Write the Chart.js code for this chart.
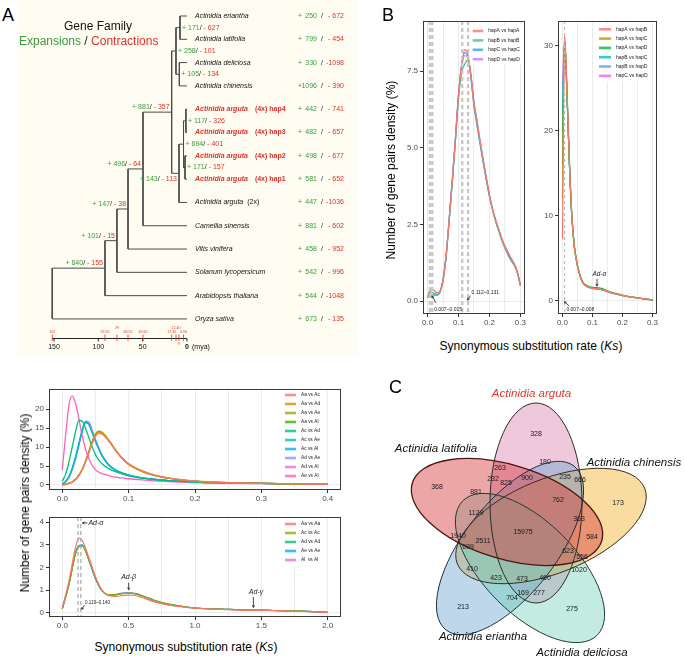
<!DOCTYPE html>
<html><head><meta charset="utf-8">
<script src="https://cdn.jsdelivr.net/npm/chart.js@4.4.1/dist/chart.umd.min.js"></script>
<style>
html,body{margin:0;padding:0;background:#fff;}
body{width:685px;height:657px;position:relative;overflow:hidden;font-family:"Liberation Sans",Arial,sans-serif;}
.pos{position:absolute;}
.t{position:absolute;white-space:nowrap;line-height:1;color:#000;}
.rot{transform:translate(-50%,-50%) rotate(-90deg);}
.ctr{transform:translate(-50%,-50%);}
</style></head><body>
<div class="pos" style="left:18px;top:0;width:340px;height:356px;background:#fffdf2;"></div>
<canvas id="tree" class="pos" width="340" height="356" style="left:18px;top:0"></canvas>
<canvas id="bL" class="pos" width="140" height="327" style="left:395px;top:11px"></canvas>
<canvas id="bR" class="pos" width="129" height="327" style="left:538px;top:11px"></canvas>
<canvas id="dT" class="pos" width="314" height="128" style="left:31px;top:381px"></canvas>
<canvas id="dB" class="pos" width="314" height="126" style="left:31px;top:510px"></canvas>
<canvas id="venn" class="pos" width="340" height="292" style="left:345px;top:365px"></canvas>
<div class="t" style="left:2px;top:6px;font-size:18px">A</div>
<div class="t" style="left:382px;top:6px;font-size:18px">B</div>
<div class="t" style="left:389px;top:378px;font-size:18px">C</div>
<div class="t rot" style="left:391px;top:170px;font-size:12px">Number of gene pairs density (%)</div>
<div class="t ctr" style="left:531px;top:346px;font-size:12px">Synonymous substitution rate (<i>Ks</i>)</div>
<div class="t rot" style="left:25px;top:503px;font-size:12px">Number of gene pairs density (%)</div>
<div class="t ctr" style="left:186px;top:647px;font-size:12px">Synonymous substitution rate (<i>Ks</i>)</div>
<script>
// ===================== DATA =====================
// Panel A: gene family tree
const taxa = ['Actinidia eriantha','Actinidia latifolia','Actinidia deliciosa','Actinidia chinensis',
  'Actinidia arguta (4x) hap4','Actinidia arguta (4x) hap3','Actinidia arguta (4x) hap2','Actinidia arguta (4x) hap1',
  'Actinidia arguta (2x)','Camellia sinensis','Vitis vinifera','Solanum lycopersicum','Arabidopsis thaliana','Oryza sativa'];
const tipExp = [250,799,330,1096,442,482,498,581,447,881,458,542,544,673];
const tipCon = [672,454,1098,390,741,657,677,652,1036,602,952,996,1048,135];
// internal nodes (ids 14..26), children refer to tip index or node id
const nodeKids = [[0,1],[2,3],[14,15],[4,5],[6,7],[17,18],[19,8],[16,20],[21,9],[22,10],[23,11],[24,12],[25,13]];
const nodeAge  = [7.9,8.6,12.4,1.2,2.2,3.9,9.0,17.3,49.6,66.5,79.0,92.5,152.0];
const nodeExp  = [171,105,258,117,171,694,143,881,496,147,101,840,null];
const nodeCon  = [627,134,101,326,157,401,113,357,64,38,15,155,null];
const timeTicks = [150,100,50,0];

// Panel B left: hap vs same hap
const ksB1 = [0,0.01,0.02,0.03,0.04,0.05,0.06,0.07,0.08,0.09,0.10,0.11,0.12,0.13,0.14,0.15,0.16,0.17,0.18,0.19,0.20,0.21,0.22,0.23,0.24,0.25,0.26,0.27,0.28,0.29,0.30];
const hapA = [0.15,0.40,0.36,0.28,0.33,0.70,1.50,2.70,3.95,5.30,6.75,7.70,8.20,8.05,7.35,6.40,5.80,5.20,4.60,4.00,3.45,3.00,2.65,2.35,2.05,1.78,1.58,1.38,1.22,0.95,0.52];
const hapB = [0.12,0.30,0.26,0.22,0.30,0.68,1.48,2.68,3.92,5.25,6.65,7.45,7.72,7.85,7.30,6.45,5.85,5.15,4.55,3.95,3.42,2.98,2.60,2.28,1.98,1.72,1.50,1.32,1.16,0.95,0.50];
const hapC = [0.13,0.22,0.22,0.20,0.30,0.70,1.50,2.70,3.95,5.30,6.72,7.65,8.10,8.00,7.30,6.35,5.70,5.10,4.50,3.95,3.42,2.98,2.62,2.32,2.02,1.76,1.54,1.36,1.20,0.95,0.52];
const hapD = [0.12,0.18,0.20,0.20,0.30,0.70,1.50,2.70,3.95,5.30,6.72,7.65,8.00,7.95,7.40,6.50,5.85,5.20,4.58,4.02,3.46,3.00,2.62,2.32,2.02,1.80,1.60,1.40,1.22,0.95,0.52];
const namesB1 = ['hapA vs hapA','hapB vs hapB','hapC vs hapC','hapD vs hapD'];

// Panel B right: between haps
const ksB2 = [0,0.003,0.006,0.009,0.012,0.015,0.02,0.025,0.03,0.035,0.04,0.05,0.06,0.07,0.08,0.09,0.1,0.11,0.12,0.13,0.14,0.15,0.16,0.18,0.2,0.22,0.24,0.26,0.28,0.3];
const hAB = [7.3,20,31.2,30.5,28,25,19.5,14.5,10.8,8.2,6.3,4.1,2.8,2.0,1.75,1.6,1.5,1.45,1.42,1.35,1.25,1.12,1.0,0.82,0.66,0.52,0.42,0.32,0.22,0.13];
const hAC = [12,23,30.5,30,27.5,24.5,19.2,14.3,10.6,8.1,6.2,4.1,2.8,2.0,1.78,1.62,1.52,1.48,1.45,1.38,1.28,1.14,1.02,0.83,0.67,0.52,0.42,0.32,0.22,0.13];
const hAD = [16,25,30,29.8,27.5,24.5,19.3,14.4,10.7,8.2,6.3,4.2,2.9,2.1,1.85,1.7,1.6,1.58,1.55,1.48,1.35,1.2,1.06,0.86,0.68,0.53,0.42,0.32,0.22,0.13];
const hBC = [20,26,29.5,29.2,27,24,19,14.2,10.6,8.1,6.2,4.1,2.8,2.0,1.76,1.6,1.5,1.46,1.43,1.36,1.26,1.13,1.01,0.82,0.66,0.52,0.42,0.32,0.22,0.13];
const hBD = [22,27,29.8,29.5,27.2,24.2,19.1,14.3,10.7,8.1,6.2,4.1,2.8,2.0,1.74,1.58,1.48,1.44,1.4,1.33,1.23,1.1,0.99,0.81,0.65,0.51,0.41,0.31,0.21,0.12];
const hCD = [25,28.5,30.2,29.8,27.4,24.3,19.2,14.4,10.7,8.2,6.3,4.1,2.8,2.0,1.72,1.56,1.46,1.42,1.38,1.31,1.21,1.09,0.98,0.8,0.64,0.5,0.4,0.3,0.2,0.12];
const namesB2 = ['hapA vs hapB','hapA vs hapC','hapA vs hapD','hapB vs hapC','hapB vs hapD','hapC vs hapD'];

// Bottom-left top: interspecific
const ksC = [0,0.005,0.01,0.015,0.02,0.025,0.03,0.035,0.04,0.045,0.05,0.055,0.06,0.07,0.08,0.09,0.1,0.12,0.14,0.16,0.18,0.2,0.25,0.3,0.35,0.4];
const aaAc = [0.05,0.15,0.4,0.8,1.5,2.5,4.0,6.0,8.4,10.9,12.8,13.6,13.4,11.6,9.2,7.1,5.6,3.8,2.6,1.9,1.4,1.05,0.62,0.42,0.3,0.15];
const aaAd = [0.05,0.15,0.4,0.8,1.5,2.5,4.0,6.1,8.6,11.2,13.2,14.0,13.7,11.7,9.2,7.0,5.4,3.6,2.5,1.8,1.3,1.0,0.6,0.4,0.3,0.15];
const aaAe = [0.05,0.15,0.4,0.8,1.5,2.6,4.1,6.2,8.7,11.3,13.3,14.1,13.8,11.8,9.3,7.1,5.5,3.6,2.5,1.8,1.3,1.0,0.6,0.4,0.3,0.15];
const aaAl = [0.05,0.15,0.4,0.8,1.5,2.6,4.1,6.2,8.8,11.4,13.4,14.2,13.9,11.8,9.3,7.1,5.5,3.6,2.5,1.8,1.3,1.0,0.6,0.4,0.3,0.15];
const acAd = [1.0,2.8,6.0,10.0,14.0,17.0,16.8,15.0,12.5,10.1,8.0,6.6,5.6,4.3,3.5,2.9,2.4,1.8,1.4,1.1,0.9,0.75,0.55,0.4,0.3,0.15];
const acAe = [0.3,0.9,2.3,4.5,7.5,11.0,14.5,16.6,16.0,13.8,11.5,9.4,7.6,5.2,3.9,3.1,2.6,1.9,1.45,1.15,0.95,0.78,0.55,0.4,0.3,0.15];
const acAl = [0.3,0.9,2.2,4.3,7.2,10.7,14.2,16.4,16.0,13.9,11.6,9.5,7.7,5.3,4.0,3.2,2.6,1.9,1.45,1.15,0.95,0.78,0.55,0.4,0.3,0.15];
const adAe = [0.3,0.8,2.1,4.2,7.1,10.6,14.3,16.8,16.5,14.3,11.9,9.7,7.8,5.3,4.0,3.2,2.6,1.9,1.45,1.15,0.95,0.78,0.55,0.4,0.3,0.15];
const adAl = [0.3,0.8,2.0,4.0,6.9,10.4,14.0,16.7,16.6,14.4,12.0,9.8,7.9,5.4,4.0,3.2,2.6,1.9,1.45,1.15,0.95,0.78,0.55,0.4,0.3,0.15];
const aeAl = [4.0,13.0,21.0,23.5,21.5,17.5,13.0,9.5,7.0,5.2,4.0,3.4,3.0,2.5,2.1,1.85,1.65,1.35,1.1,0.9,0.75,0.62,0.45,0.35,0.28,0.15];
const namesC = ['Aa vs Ac','Aa vs Ad','Aa vs Ae','Aa vs Al','Ac vs Ad','Ac vs Ae','Ac vs Al','Ad vs Ae','Ad vs Al','Ae vs Al'];

// Bottom-left bottom: intraspecific
const ksD = [0,0.05,0.1,0.125,0.15,0.2,0.25,0.3,0.35,0.4,0.45,0.5,0.55,0.6,0.7,0.8,0.9,1.0,1.2,1.4,1.5,1.6,1.8,2.0];
const aaAa = [0.2,1.4,2.9,3.3,3.2,2.45,1.6,1.0,0.76,0.73,0.76,0.79,0.77,0.68,0.48,0.35,0.27,0.21,0.16,0.12,0.13,0.1,0.07,0.02];
const acAc = [0.18,1.25,2.6,2.9,2.95,2.35,1.55,1.0,0.8,0.8,0.85,0.87,0.84,0.75,0.53,0.38,0.29,0.22,0.17,0.13,0.13,0.11,0.08,0.03];
const adAd = [0.18,1.25,2.62,2.92,2.95,2.33,1.52,0.98,0.79,0.8,0.85,0.88,0.85,0.76,0.54,0.39,0.29,0.22,0.17,0.13,0.13,0.11,0.08,0.03];
const aeAe = [0.18,1.27,2.65,2.97,3.0,2.35,1.52,0.98,0.8,0.81,0.86,0.88,0.85,0.76,0.54,0.38,0.29,0.22,0.17,0.13,0.13,0.11,0.08,0.03];
const alAl = [0.18,1.26,2.64,2.95,2.98,2.34,1.52,0.98,0.8,0.82,0.87,0.89,0.86,0.77,0.55,0.39,0.29,0.22,0.17,0.13,0.13,0.11,0.08,0.03];
const namesD = ['Aa vs Aa','Ac vs Ac','Ad vs Ad','Ae vs Ae','Al  vs Al'];

// Panel C: Venn
const vennSets = ['Actinidia arguta','Actinidia latifolia','Actinidia chinensis','Actinidia eriantha','Actinidia deilciosa'];
const vennCounts = [328,263,180,232,900,235,666,368,881,825,762,173,1129,363,15975,1940,2511,584,699,623,556,410,1020,423,473,460,169,277,704,213,275];

// ===================== LAYOUT / STYLE =====================
const FONT = '"Liberation Sans", Arial, sans-serif';
const GREEN = '#3a9b3f', RED = '#e0302a';
const colsB1 = ['#F8766D','#4DC282','#3FA3E0','#C77CFF'];
const colsB2 = ['#F8766D','#B79F00','#00BA38','#00BFC4','#619CFF','#F564E3'];
const colsC = ['#F8766D','#D89000','#A3A500','#39B600','#00BF7D','#00BFC4','#00B0F6','#9590FF','#E76BF3','#FF62BC'];
const colsD = ['#F8766D','#A3A500','#00BF7D','#00B0F6','#E76BF3'];
const nodeLabelSide = ['r','r','r','r','r','r','b','a','a','a','a','a',''];
const ageLabelRow   = [-1,-1,1,-1,-1,0,2,0,0,0,1,0,0];
const vennShapes = [ // cx, cy, rx, ry, rotation(deg) in venn units
  [191,138,46,100,0],[162,147,99,47,17],[206,161,101,47,-22],[165,183,104,46,-52],[185,203,95,46,45]];
const vennFill = ['rgba(217,117,167,0.40)','rgba(214,58,58,0.45)','rgba(245,185,65,0.50)','rgba(111,166,211,0.45)','rgba(105,205,180,0.40)'];
const vennStroke = ['#2a2a2a','#4a1616','#3a2a1a','#1f2f3f','#1f3a34'];
const vennOrder = [0,2,3,4,1];
const vennLabelXY = [[186.5,29],[91,84],[289,98],[138,272],[237,288]];
const vennCountXY = [[191,69],[155,103],[200,97],[148,114],[182,113],[220,112],[235,115],[92,122],[131,127],[161,118],[213,135],[273,138],[131,148],[234,154],[178,167],[113,171],[138,176],[247,172],[123,182],[223,186],[237,192],[127,204],[234,205],[151,213],[177,214],[200,213],[178,228],[194,228],[167,233],[118,242],[227,244]];

// ===================== HELPERS =====================
function drawParts(ctx, parts, x, y, align){
  let total=0; parts.forEach(p=>{ctx.font=p[2]; total+=ctx.measureText(p[0]).width;});
  let cx = align==='right' ? x-total : x;
  ctx.textAlign='left';
  parts.forEach(p=>{ctx.font=p[2]; ctx.fillStyle=p[1]; ctx.fillText(p[0],cx,y); cx+=ctx.measureText(p[0]).width;});
}
function arrow(ctx,x1,y1,x2,y2,h){
  ctx.beginPath(); ctx.moveTo(x1,y1); ctx.lineTo(x2,y2); ctx.stroke();
  const a=Math.atan2(y2-y1,x2-x1);
  ctx.beginPath();
  ctx.moveTo(x2-h*Math.cos(a-0.45),y2-h*Math.sin(a-0.45));
  ctx.lineTo(x2,y2);
  ctx.lineTo(x2-h*Math.cos(a+0.45),y2-h*Math.sin(a+0.45));
  ctx.stroke();
}
const framePlugin = {id:'frameBox', afterDraw(chart){
  const {ctx, chartArea:a}=chart; ctx.save(); ctx.strokeStyle='#3a3a3a'; ctx.lineWidth=1;
  ctx.strokeRect(Math.round(a.left)+0.5, Math.round(a.top)+0.5, Math.round(a.width)-1, Math.round(a.height)-1); ctx.restore();}};
function makeLegend(o){ return {id:'ggLegend', afterDatasetsDraw(chart){
  const {ctx, chartArea:a}=chart; const ds=chart.data.datasets;
  ctx.save(); ctx.font=`${o.font}px ${FONT}`;
  let tw=0; ds.forEach(d=>{tw=Math.max(tw,ctx.measureText(d.label).width);});
  const x0=a.left+o.x, y0=a.top+o.y;
  ctx.fillStyle='#fff'; ctx.fillRect(x0-3, y0-o.dy/2-1, o.keyW+o.gap+tw+5, o.dy*ds.length+2);
  ds.forEach((d,i)=>{const yy=y0+i*o.dy;
    ctx.globalAlpha=0.8; ctx.strokeStyle=d.borderColor; ctx.lineWidth=2.6; ctx.lineCap='butt';
    ctx.beginPath(); ctx.moveTo(x0,yy); ctx.lineTo(x0+o.keyW,yy); ctx.stroke();
    ctx.globalAlpha=1; ctx.fillStyle='#1a1a1a'; ctx.textAlign='left'; ctx.textBaseline='middle';
    ctx.fillText(d.label, x0+o.keyW+o.gap, yy);});
  ctx.restore();}};}
function makeAnnot(o){ return {id:'annot', afterDatasetsDraw(chart){
  const {ctx, chartArea:a, scales:{x,y}}=chart; ctx.save();
  (o.vlines||[]).forEach(v=>{ctx.strokeStyle=v.color; ctx.lineWidth=v.w; ctx.setLineDash(v.dash);
    const px=x.getPixelForValue(v.x); ctx.beginPath(); ctx.moveTo(px,a.top); ctx.lineTo(px,a.bottom); ctx.stroke();});
  ctx.setLineDash([]); ctx.strokeStyle='#222'; ctx.lineWidth=0.8;
  (o.arrows||[]).forEach(r=>arrow(ctx,x.getPixelForValue(r.x1),y.getPixelForValue(r.y1),x.getPixelForValue(r.x2),y.getPixelForValue(r.y2),r.h||2.5));
  (o.texts||[]).forEach(t=>{ctx.font=`${t.it?'italic ':''}${t.size}px ${FONT}`; ctx.fillStyle='#222';
    ctx.textAlign=t.align||'left'; ctx.textBaseline='middle'; ctx.fillText(t.text,x.getPixelForValue(t.x),y.getPixelForValue(t.y));});
  ctx.restore();}};}
const isMult=(v,s)=>Math.abs(v/s-Math.round(v/s))<1e-6;

function densityChart(id, xs, series, names, colors, c){
  return new Chart(document.getElementById(id), {
    type:'scatter',
    data:{datasets:series.map((s,i)=>({label:names[i], data:xs.map((v,j)=>({x:v,y:s[j]})), showLine:true,
      borderColor:colors[i], backgroundColor:colors[i], borderWidth:c.lw, pointRadius:0, pointHoverRadius:0,
      cubicInterpolationMode:'monotone', fill:false}))},
    options:{responsive:false, animation:false, events:[], layout:{padding:c.pad},
      scales:{
        x:{type:'linear', min:c.xmin, max:c.xmax,
          afterBuildTicks:s=>{s.ticks=c.xticks.map(v=>({value:v}));}, afterFit:s=>{s.height=c.xh;},
          ticks:{autoSkip:false, maxRotation:0, minRotation:0, padding:1, color:'#4d4d4d', font:{family:FONT,size:8},
            callback:v=>isMult(v,c.xmaj)?v.toFixed(1):''},
          grid:{color:'#ebebeb', lineWidth:1, tickLength:3,
            tickColor:ctx=>(ctx.tick && isMult(ctx.tick.value,c.xmaj))?'#333':'rgba(0,0,0,0)'},
          border:{display:false}},
        y:{type:'linear', min:c.ymin, max:c.ymax,
          afterBuildTicks:s=>{s.ticks=c.yticks.map(v=>({value:v}));}, afterFit:s=>{s.width=c.yw;},
          ticks:{padding:2, color:'#4d4d4d', font:{family:FONT,size:8}, callback:v=>c.yfmt(v)},
          grid:{color:ctx=>(ctx.tick && ctx.tick.value===0)?'#ebebeb':'rgba(0,0,0,0)', tickLength:3, tickColor:'#333'},
          border:{display:false}}},
      plugins:{legend:{display:false}, tooltip:{enabled:false}}},
    plugins:[makeAnnot(c.annot||{}), makeLegend(c.legend), framePlugin]
  });
}

// ===================== PANEL A: TREE =====================
const nodeY={}, nodeT={};
taxa.forEach((_,i)=>{nodeY[i]=i; nodeT[i]=0;});
nodeKids.forEach((k,j)=>{const id=14+j; nodeY[id]=(nodeY[k[0]]+nodeY[k[1]])/2; nodeT[id]=nodeAge[j];});
const treeSets = nodeKids.map((k,j)=>{const id=14+j, a=k[0], b=k[1];
  return {data:[{x:nodeT[a],y:nodeY[a]},{x:nodeT[id],y:nodeY[a]},{x:nodeT[id],y:nodeY[b]},{x:nodeT[b],y:nodeY[b]}],
    showLine:true, borderColor:'#4a4a4a', borderWidth:1, pointRadius:0, tension:0, fill:false};});

const treePlugin = {id:'treeDraw', afterDatasetsDraw(chart){
  const {ctx, scales:{x,y}}=chart; ctx.save(); ctx.textBaseline='middle';
  ctx.textAlign='center'; ctx.fillStyle='#111'; ctx.font=`12px ${FONT}`;
  ctx.fillText('Gene Family', 80, 27);
  const f12=`12px ${FONT}`;
  drawParts(ctx,[['Expansions',GREEN,f12],[' / ','#111',f12],['Contractions',RED,f12]],1,42,'left');
  const tipX=x.getPixelForValue(0), f7=`7px ${FONT}`;
  taxa.forEach((name,i)=>{
    const py=y.getPixelForValue(i);
    const k=name.indexOf(' (');
    const sp=k>=0?name.slice(0,k):name, suf=k>=0?name.slice(k+1):'';
    const hap=/hap/.test(suf), w=hap?'bold ':'';
    ctx.textAlign='left'; ctx.fillStyle=hap?RED:'#111';
    ctx.font=`italic ${w}7px ${FONT}`; ctx.fillText(sp,tipX+8,py);
    if(suf){const sw=ctx.measureText(sp).width; ctx.font=`${w}7px ${FONT}`; ctx.fillText(suf,tipX+8+sw+(hap?7:4),py);}
    ctx.font=f7;
    ctx.fillStyle=GREEN; ctx.textAlign='left'; ctx.fillText('+',tipX+111,py);
    ctx.textAlign='right'; ctx.fillText(String(tipExp[i]),tipX+130,py);
    ctx.fillStyle='#111'; ctx.textAlign='left'; ctx.fillText('/',tipX+134,py);
    ctx.fillStyle=RED; ctx.textAlign='right'; ctx.fillText(tipCon[i]>=1000?'-'+tipCon[i]:'- '+tipCon[i],tipX+157,py);
  });
  nodeKids.forEach((k,j)=>{
    if(nodeExp[j]==null) return;
    const id=14+j, nx=x.getPixelForValue(nodeT[id]), ny=y.getPixelForValue(nodeY[id]);
    const parts=[['+ '+nodeExp[j],GREEN,f7],['/','#111',f7],[' - '+nodeCon[j],RED,f7]];
    const side=nodeLabelSide[j];
    if(side==='r') drawParts(ctx,parts,nx+2,ny,'left');
    else if(side==='a') drawParts(ctx,parts,nx-2,ny-5,'right');
    else drawParts(ctx,parts,nx-2,ny+5.5,'right');
  });
  // time scale bar
  const yb=Math.round(y.getPixelForValue(taxa.length-1)+18.7)+0.5;
  ctx.strokeStyle='#222'; ctx.lineWidth=1;
  ctx.beginPath(); ctx.moveTo(x.getPixelForValue(nodeAge[nodeAge.length-1]),yb); ctx.lineTo(x.getPixelForValue(0),yb); ctx.stroke();
  ctx.fillStyle='#111'; ctx.textAlign='center';
  timeTicks.forEach(t=>{const px=x.getPixelForValue(t);
    ctx.beginPath(); ctx.moveTo(px,yb); ctx.lineTo(px,yb+3); ctx.stroke();
    if(t===0){ctx.font=`bold 7px ${FONT}`; ctx.fillText('0',px,yb+9); ctx.font=f7; ctx.textAlign='left'; ctx.fillText('(mya)',px+5,yb+9); ctx.textAlign='center';}
    else {ctx.font=f7; ctx.fillText(String(t),px,yb+9);}
  });
  ctx.strokeStyle=RED; ctx.fillStyle=RED; ctx.lineWidth=0.8; ctx.font=`3.6px ${FONT}`;
  nodeAge.forEach((t,j)=>{
    const row=ageLabelRow[j]; if(row<0) return;
    const px=x.getPixelForValue(t);
    ctx.beginPath(); ctx.moveTo(px,yb-4); ctx.lineTo(px,yb+2.5); ctx.stroke();
    const ly=row===0?yb-6.7:(row===1?yb-11:yb+5.5);
    ctx.fillText(t.toFixed(2).replace(/\.00$/,''),px,ly);
  });
  ctx.restore();}};

new Chart(document.getElementById('tree'), {
  type:'scatter', data:{datasets:treeSets},
  options:{responsive:false, animation:false, events:[], layout:{padding:0},
    scales:{x:{type:'linear',display:false,min:-192.9,max:190.6,reverse:true},
            y:{type:'linear',display:false,min:-0.687,max:14.59,reverse:true}},
    plugins:{legend:{display:false},tooltip:{enabled:false}}},
  plugins:[treePlugin]
});

// ===================== PANEL B =====================
densityChart('bL', ksB1, [hapA,hapB,hapC,hapD], namesB1, colsB1, {
  lw:1.3, pad:{top:10,right:10,bottom:4,left:0}, xh:20, yw:28,
  xmin:-0.015, xmax:0.315, xticks:[0,0.05,0.1,0.15,0.2,0.25,0.3], xmaj:0.1,
  ymin:-0.42, ymax:9.13, yticks:[0,2.5,5,7.5], yfmt:v=>v.toFixed(1),
  legend:{x:49.7,y:10,dy:9.4,keyW:10.5,gap:5,font:5},
  annot:{vlines:[{x:0.007,w:2.2,dash:[4,3],color:'#c4c4c4'},{x:0.015,w:2.2,dash:[4,3],color:'#c4c4c4'},
                 {x:0.112,w:2.2,dash:[4,3],color:'#c4c4c4'},{x:0.131,w:2.2,dash:[4,3],color:'#c4c4c4'}],
    arrows:[{x1:0.027,y1:-0.06,x2:0.014,y2:0.17},{x1:0.139,y1:0.18,x2:0.129,y2:0.03}],
    texts:[{x:0.021,y:-0.27,text:'0.007~0.015',size:5},{x:0.142,y:0.27,text:'0.112~0.131',size:5}]}
});
densityChart('bR', ksB2, [hAB,hAC,hAD,hBC,hBD,hCD], namesB2, colsB2, {
  lw:1.2, pad:{top:10,right:10,bottom:4,left:0}, xh:20, yw:20,
  xmin:-0.015, xmax:0.315, xticks:[0,0.05,0.1,0.15,0.2,0.25,0.3], xmaj:0.1,
  ymin:-1.53, ymax:32.94, yticks:[0,10,20,30], yfmt:v=>String(v),
  legend:{x:41,y:8.3,dy:9.3,keyW:12,gap:5,font:5},
  annot:{vlines:[{x:0.007,w:1.2,dash:[3,3],color:'#bdbdbd'}],
    arrows:[{x1:0.022,y1:-0.6,x2:0.006,y2:-0.05},{x1:0.115,y1:2.6,x2:0.115,y2:1.75}],
    texts:[{x:0.013,y:-1.06,text:'0.007~0.008',size:5},{x:0.123,y:3.2,text:'Ad-α',size:6.5,it:true,align:'center'}]}
});

// ===================== BOTTOM-LEFT =====================
densityChart('dT', ksC, [aaAc,aaAd,aaAe,aaAl,acAd,acAe,acAl,adAe,adAl,aeAl], namesC, colsC, {
  lw:1.3, pad:{top:8,right:4,bottom:2,left:0}, xh:17, yw:18,
  xmin:-0.02, xmax:0.42, xticks:[0,0.05,0.1,0.15,0.2,0.25,0.3,0.35,0.4], xmaj:0.1,
  ymin:-1.32, ymax:25.3, yticks:[0,5,10,15,20], yfmt:v=>String(v),
  legend:{x:236,y:6,dy:9,keyW:11,gap:5,font:4.8}
});
densityChart('dB', ksD, [aaAa,acAc,adAd,aeAe,alAl], namesD, colsD, {
  lw:1.2, pad:{top:7,right:4,bottom:2,left:0}, xh:17, yw:18,
  xmin:-0.1, xmax:2.1, xticks:[0,0.25,0.5,0.75,1,1.25,1.5,1.75,2], xmaj:0.5,
  ymin:-0.176, ymax:4.22, yticks:[0,1,2,3,4], yfmt:v=>String(v),
  legend:{x:236,y:7,dy:9,keyW:11,gap:5,font:4.8},
  annot:{vlines:[{x:0.119,w:1.2,dash:[4,3],color:'#a8a8a8'},{x:0.140,w:1.2,dash:[4,3],color:'#a8a8a8'}],
    arrows:[{x1:0.19,y1:3.96,x2:0.152,y2:3.96},{x1:0.168,y1:0.34,x2:0.146,y2:0.16},{x1:0.5,y1:1.33,x2:0.5,y2:1.02},{x1:1.44,y1:0.7,x2:1.44,y2:0.24}],
    texts:[{x:0.197,y:3.96,text:'Ad-α',size:7,it:true},{x:0.172,y:0.44,text:'0.119~0.140',size:4.5},
           {x:0.5,y:1.6,text:'Ad-β',size:7,it:true,align:'center'},{x:1.46,y:0.93,text:'Ad-γ',size:7,it:true,align:'center'}]}
});

// ===================== PANEL C: VENN =====================
const vennPlugin = {id:'vennDraw',
  beforeDatasetsDraw(chart){
    const {ctx, scales:{x,y}}=chart; const ux=x.getPixelForValue(1)-x.getPixelForValue(0), uy=Math.abs(y.getPixelForValue(1)-y.getPixelForValue(0));
    const path=e=>{ctx.beginPath(); ctx.ellipse(x.getPixelForValue(e[0]),y.getPixelForValue(e[1]),e[2]*ux,e[3]*uy,e[4]*Math.PI/180,0,Math.PI*2);};
    ctx.save();
    vennOrder.forEach(i=>{path(vennShapes[i]); ctx.fillStyle=vennFill[i]; ctx.fill();});
    vennOrder.forEach(i=>{path(vennShapes[i]); ctx.strokeStyle=vennStroke[i]; ctx.lineWidth=i===1?1.3:1; ctx.stroke();});
    ctx.restore();
  },
  afterDatasetsDraw(chart){
    const {ctx, scales:{x,y}}=chart; ctx.save();
    ctx.textAlign='center'; ctx.textBaseline='middle'; ctx.fillStyle='#1a1a1a'; ctx.font=`7px ${FONT}`;
    const meta=chart.getDatasetMeta(0);
    meta.data.forEach((pt,i)=>{ctx.fillText(String(vennCounts[i]),pt.x,pt.y);});
    ctx.font=`italic 11.5px ${FONT}`;
    vennSets.forEach((s,i)=>{ctx.fillStyle=i===0?'#e4352c':'#111'; ctx.fillText(s,x.getPixelForValue(vennLabelXY[i][0]),y.getPixelForValue(vennLabelXY[i][1]));});
    ctx.restore();
  }};
new Chart(document.getElementById('venn'), {
  type:'scatter',
  data:{datasets:[{data:vennCountXY.map(p=>({x:p[0],y:p[1]})), pointRadius:0, pointHoverRadius:0}]},
  options:{responsive:false, animation:false, events:[], layout:{padding:0},
    scales:{x:{type:'linear',display:false,min:0,max:340}, y:{type:'linear',display:false,min:0,max:292,reverse:true}},
    plugins:{legend:{display:false},tooltip:{enabled:false}}},
  plugins:[vennPlugin]
});
</script>
</body></html>
